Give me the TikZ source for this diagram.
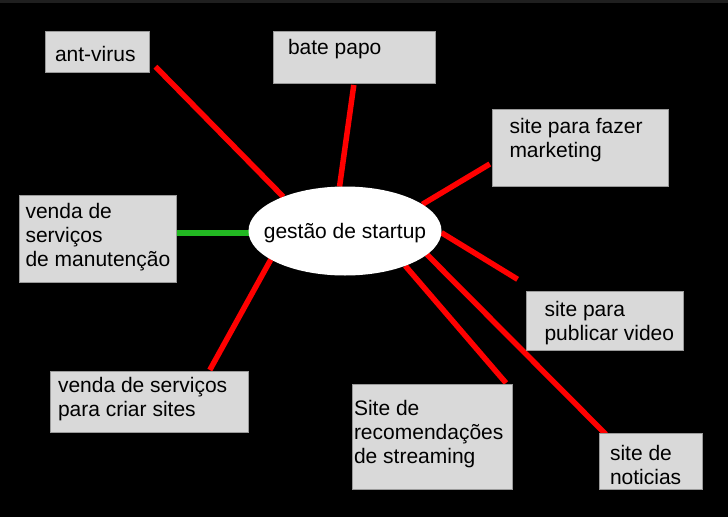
\documentclass[tikz,border=0pt]{standalone}
\usepackage{fontspec}
\setmainfont{Liberation Sans}
\usetikzlibrary{shapes.geometric}
\pgfdeclarelayer{backdrop}
\pgfdeclarelayer{bg}
\pgfsetlayers{backdrop,bg,main}
\definecolor{boxfill}{HTML}{D9D9D9}
\definecolor{boxline}{HTML}{9A9A9A}
\definecolor{linkred}{HTML}{FF0000}
\definecolor{linkgreen}{HTML}{22B822}
\definecolor{strip}{HTML}{1F1F1F}
\tikzset{
  boxst/.style={draw=boxline, line width=0.8pt, fill=boxfill, rectangle, inner sep=0pt, outer sep=0pt, anchor=north west},
  centre/.style={ellipse, fill=white, inner sep=0pt, outer sep=0pt, minimum width=193pt, minimum height=89pt},
  redlink/.style={draw=linkred, line width=5.5pt},
  greenlink/.style={draw=linkgreen, line width=6pt}
}
\newcommand\txtsize{\fontsize{21}{24}\selectfont}
% name, x, y, w, h, dx, dy, text
\newcommand\boxat[8]{\node[boxst, minimum width=#4pt, minimum height=#5pt] (#1) at (#2,#3)
  {\parbox[t][#5pt][t]{#4pt}{\txtsize\vspace*{#7pt}\leftskip=#6pt\relax\strut #8}};}
\begin{document}
\begin{tikzpicture}[x=1pt,y=-1pt]
\useasboundingbox (0,0) rectangle (728,517);
\begin{pgfonlayer}{backdrop}
\fill[black] (0,0) rectangle (728,517);
\fill[strip] (0,0) rectangle (728,3);
\end{pgfonlayer}

\boxat{ant}{45}{31}{104}{41}{10}{14}{ant-virus}
\boxat{bate}{273}{31}{162}{52}{15}{6.5}{bate papo}
\boxat{mkt}{492.5}{109}{176}{77}{17}{7.5}{site para fazer\\\strut marketing}
\boxat{manut}{19.5}{195}{157}{87}{6}{7}{venda de\\\strut serviços\\\strut de manutenção}
\boxat{video}{526.5}{291}{156.5}{59}{18}{9}{site para\\\strut publicar video}
\boxat{criar}{50}{371.5}{198}{61}{8}{4.5}{venda de serviços\\\strut para criar sites}
\boxat{stream}{352}{384}{160}{105.5}{2}{15}{Site de\\\strut recomendações\\\strut de streaming}
\boxat{noti}{599}{433.5}{103}{56}{11}{10}{site de\\\strut noticias}

\node[centre] (g) at (345,231) {\txtsize\raisebox{-7pt}[0pt][0pt]{\makebox[0pt]{gestão de startup}}};

\coordinate (eant) at (155.5,66.7);
\coordinate (ebate) at (353.8,85);
\coordinate (emkt) at (489.8,164);
\coordinate (evideo) at (517.6,279.3);
\coordinate (ecriar) at (209.8,370);
\coordinate (estream) at (506,383);
\coordinate (enoti) at (605.8,434.3);

\begin{pgfonlayer}{bg}
\draw[redlink] (g.151.5) -- (eant);
\draw[redlink] (g.97.8) -- (ebate);
\draw[redlink] (g.19.2) -- (emkt);
\draw[greenlink] (g.181.8) -- (manut.east |- g.181.8);
\draw[redlink] (g.-1) -- (evideo);
\draw[redlink] (g.201.2) -- (ecriar);
\draw[redlink] (g.-30) -- (estream);
\draw[redlink] (g.-16.9) -- (enoti);
\end{pgfonlayer}
\end{tikzpicture}
\end{document}
